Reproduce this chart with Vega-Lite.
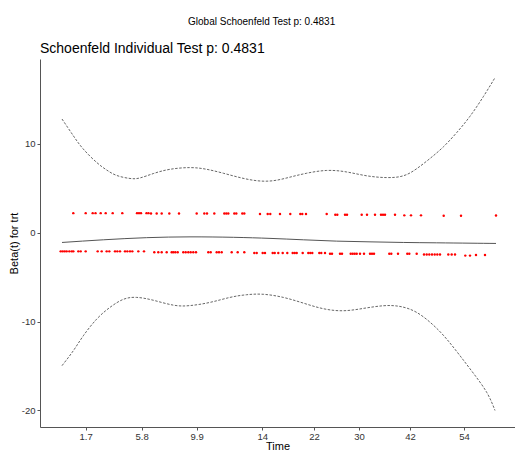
{
  "$schema": "https://vega.github.io/schema/vega-lite/v6.json",
  "background": "white",
  "padding": {"left": 8, "top": 17, "right": 0, "bottom": 0},
  "title": {"text": "Global Schoenfeld Test p: 0.4831", "anchor": "middle", "frame": "bounds", "fontSize": 10, "fontWeight": "normal", "font": "Liberation Sans", "color": "#000000", "offset": 15},
  "config": {"view": {"stroke": null}, "font": "Liberation Sans", "concat": {"spacing": 0}},
  "datasets": {
    "curves": [
      {"s": "upper", "t": 22, "v": 12.79}, {"s": "upper", "t": 33.3, "v": 10.91}, {"s": "upper", "t": 43.3, "v": 9.41}, {"s": "upper", "t": 56.7, "v": 7.9}, {"s": "upper", "t": 66.7, "v": 7.05}, {"s": "upper", "t": 76.7, "v": 6.44}, {"s": "upper", "t": 90, "v": 6.1}, {"s": "upper", "t": 100, "v": 6.16}, {"s": "upper", "t": 113.3, "v": 6.65}, {"s": "upper", "t": 130, "v": 7.13}, {"s": "upper", "t": 150, "v": 7.32}, {"s": "upper", "t": 166.7, "v": 7.13}, {"s": "upper", "t": 183.3, "v": 6.69}, {"s": "upper", "t": 200, "v": 6.2}, {"s": "upper", "t": 216.7, "v": 5.85}, {"s": "upper", "t": 233.3, "v": 5.85}, {"s": "upper", "t": 250, "v": 6.25}, {"s": "upper", "t": 266.7, "v": 6.69}, {"s": "upper", "t": 286.7, "v": 7.0}, {"s": "upper", "t": 306.7, "v": 6.83}, {"s": "upper", "t": 326.7, "v": 6.4}, {"s": "upper", "t": 346.7, "v": 6.2}, {"s": "upper", "t": 363.3, "v": 6.4}, {"s": "upper", "t": 376.7, "v": 7.2}, {"s": "upper", "t": 390, "v": 8.35}, {"s": "upper", "t": 403.3, "v": 9.65}, {"s": "upper", "t": 416.7, "v": 11.26}, {"s": "upper", "t": 430, "v": 13.1}, {"s": "upper", "t": 443.3, "v": 15.3}, {"s": "upper", "t": 455, "v": 17.44},
      {"s": "lower", "t": 22, "v": -14.96}, {"s": "lower", "t": 33.3, "v": -13.28}, {"s": "lower", "t": 43.3, "v": -11.6}, {"s": "lower", "t": 56.7, "v": -9.72}, {"s": "lower", "t": 70, "v": -8.4}, {"s": "lower", "t": 83.3, "v": -7.5}, {"s": "lower", "t": 96.7, "v": -7.28}, {"s": "lower", "t": 113.3, "v": -7.6}, {"s": "lower", "t": 133.3, "v": -8.15}, {"s": "lower", "t": 150, "v": -8.2}, {"s": "lower", "t": 170, "v": -7.84}, {"s": "lower", "t": 190, "v": -7.28}, {"s": "lower", "t": 206.7, "v": -6.98}, {"s": "lower", "t": 223.3, "v": -6.93}, {"s": "lower", "t": 243.3, "v": -7.28}, {"s": "lower", "t": 263.3, "v": -7.92}, {"s": "lower", "t": 283.3, "v": -8.55}, {"s": "lower", "t": 303.3, "v": -8.78}, {"s": "lower", "t": 323.3, "v": -8.52}, {"s": "lower", "t": 343.3, "v": -8.22}, {"s": "lower", "t": 360, "v": -8.3}, {"s": "lower", "t": 376.7, "v": -8.97}, {"s": "lower", "t": 393.3, "v": -10.4}, {"s": "lower", "t": 406.7, "v": -11.97}, {"s": "lower", "t": 420, "v": -13.84}, {"s": "lower", "t": 433.3, "v": -15.8}, {"s": "lower", "t": 446.7, "v": -17.96}, {"s": "lower", "t": 455, "v": -20.0},
      {"s": "fit", "t": 22, "v": -1.1}, {"s": "fit", "t": 63.3, "v": -0.8}, {"s": "fit", "t": 106.7, "v": -0.56}, {"s": "fit", "t": 150, "v": -0.47}, {"s": "fit", "t": 193.3, "v": -0.52}, {"s": "fit", "t": 230, "v": -0.64}, {"s": "fit", "t": 263.3, "v": -0.8}, {"s": "fit", "t": 296.7, "v": -0.95}, {"s": "fit", "t": 330, "v": -1.03}, {"s": "fit", "t": 363.3, "v": -1.1}, {"s": "fit", "t": 396.7, "v": -1.14}, {"s": "fit", "t": 430, "v": -1.18}, {"s": "fit", "t": 456, "v": -1.21}
    ],
    "resid": [
      {"t": 33.3, "v": 2.2}, {"t": 45.7, "v": 2.2}, {"t": 52.7, "v": 2.2}, {"t": 55.5, "v": 2.2}, {"t": 60.7, "v": 2.2}, {"t": 65.7, "v": 2.2}, {"t": 72.7, "v": 2.2}, {"t": 82.3, "v": 2.2}, {"t": 97, "v": 2.2}, {"t": 99, "v": 2.2}, {"t": 101, "v": 2.2}, {"t": 106.5, "v": 2.2}, {"t": 108.5, "v": 2.2},
      {"t": 111, "v": 2.15}, {"t": 116.7, "v": 2.15}, {"t": 121.7, "v": 2.15}, {"t": 129.3, "v": 2.15}, {"t": 139, "v": 2.15}, {"t": 156.7, "v": 2.15}, {"t": 164.3, "v": 2.15}, {"t": 167, "v": 2.15}, {"t": 174.3, "v": 2.15}, {"t": 184.3, "v": 2.15}, {"t": 186.3, "v": 2.15}, {"t": 188.3, "v": 2.15}, {"t": 194.3, "v": 2.15}, {"t": 196.3, "v": 2.15}, {"t": 202.3, "v": 2.15}, {"t": 204.3, "v": 2.15},
      {"t": 220, "v": 2.1}, {"t": 227.7, "v": 2.1}, {"t": 230.3, "v": 2.1}, {"t": 240, "v": 2.1}, {"t": 250.3, "v": 2.1}, {"t": 260.3, "v": 2.1}, {"t": 262.3, "v": 2.1}, {"t": 266, "v": 2.1}, {"t": 286.7, "v": 2.1},
      {"t": 295.3, "v": 2.02}, {"t": 297.3, "v": 2.02}, {"t": 305, "v": 2.02}, {"t": 307, "v": 2.02}, {"t": 321.7, "v": 2.02}, {"t": 327, "v": 2.02}, {"t": 335, "v": 2.02}, {"t": 341, "v": 2.02}, {"t": 343, "v": 2.02}, {"t": 345, "v": 2.02}, {"t": 355, "v": 2.02},
      {"t": 364.3, "v": 1.95}, {"t": 371, "v": 1.95}, {"t": 381, "v": 1.95}, {"t": 403.7, "v": 1.9}, {"t": 421, "v": 1.9}, {"t": 456, "v": 1.93},
      {"t": 20.7, "v": -2.1}, {"t": 22.7, "v": -2.1}, {"t": 24.7, "v": -2.1}, {"t": 26.7, "v": -2.1}, {"t": 29.3, "v": -2.1}, {"t": 31.7, "v": -2.1}, {"t": 33.3, "v": -2.1}, {"t": 38.3, "v": -2.1}, {"t": 40.7, "v": -2.1}, {"t": 45.7, "v": -2.1}, {"t": 57.7, "v": -2.1}, {"t": 61.7, "v": -2.1}, {"t": 66.7, "v": -2.1}, {"t": 69.3, "v": -2.1}, {"t": 75, "v": -2.1}, {"t": 77.3, "v": -2.1}, {"t": 80, "v": -2.1}, {"t": 85, "v": -2.1}, {"t": 87.3, "v": -2.1}, {"t": 90, "v": -2.1}, {"t": 92.3, "v": -2.1}, {"t": 98.3, "v": -2.1}, {"t": 104, "v": -2.1},
      {"t": 114.3, "v": -2.2}, {"t": 118.3, "v": -2.2}, {"t": 121.7, "v": -2.2}, {"t": 126.7, "v": -2.2}, {"t": 131.7, "v": -2.2}, {"t": 133.3, "v": -2.2}, {"t": 135.3, "v": -2.2}, {"t": 137.7, "v": -2.2}, {"t": 143.3, "v": -2.2}, {"t": 145.7, "v": -2.2}, {"t": 148.3, "v": -2.2}, {"t": 150.7, "v": -2.2}, {"t": 153.3, "v": -2.2}, {"t": 156, "v": -2.2}, {"t": 168.3, "v": -2.2}, {"t": 170.7, "v": -2.2}, {"t": 176.7, "v": -2.2}, {"t": 179, "v": -2.2}, {"t": 181.7, "v": -2.2}, {"t": 191.7, "v": -2.2}, {"t": 197.7, "v": -2.2}, {"t": 204.3, "v": -2.2},
      {"t": 214.3, "v": -2.28}, {"t": 216.7, "v": -2.28}, {"t": 222.7, "v": -2.28}, {"t": 225, "v": -2.28}, {"t": 232.7, "v": -2.28}, {"t": 234.7, "v": -2.28}, {"t": 238.3, "v": -2.28}, {"t": 242.7, "v": -2.28}, {"t": 247.3, "v": -2.28}, {"t": 252.7, "v": -2.28}, {"t": 254.7, "v": -2.28}, {"t": 256.7, "v": -2.28}, {"t": 262.7, "v": -2.28}, {"t": 268.3, "v": -2.28}, {"t": 270.3, "v": -2.28}, {"t": 272.3, "v": -2.28}, {"t": 279.3, "v": -2.28}, {"t": 281.3, "v": -2.28}, {"t": 285, "v": -2.28},
      {"t": 290, "v": -2.38}, {"t": 292, "v": -2.38}, {"t": 300, "v": -2.38}, {"t": 302, "v": -2.38}, {"t": 310.7, "v": -2.38}, {"t": 312.7, "v": -2.38}, {"t": 314.7, "v": -2.38}, {"t": 316.7, "v": -2.38}, {"t": 320, "v": -2.38}, {"t": 324, "v": -2.38}, {"t": 330, "v": -2.38}, {"t": 332, "v": -2.38}, {"t": 334, "v": -2.38}, {"t": 349.3, "v": -2.38}, {"t": 351.3, "v": -2.38}, {"t": 358, "v": -2.38}, {"t": 367.3, "v": -2.38}, {"t": 369.3, "v": -2.38}, {"t": 376.7, "v": -2.38},
      {"t": 384, "v": -2.45}, {"t": 386.7, "v": -2.45}, {"t": 389.3, "v": -2.45}, {"t": 392, "v": -2.45}, {"t": 394.7, "v": -2.45}, {"t": 397.3, "v": -2.45}, {"t": 400, "v": -2.45}, {"t": 408.3, "v": -2.45}, {"t": 411.7, "v": -2.45}, {"t": 415, "v": -2.45},
      {"t": 425.3, "v": -2.58}, {"t": 430, "v": -2.58}, {"t": 436, "v": -2.52}, {"t": 445, "v": -2.52}
    ]
  },
  "vconcat": [
    {
      "width": 475,
      "height": 368,
      "title": {"text": "Schoenfeld Individual Test p: 0.4831", "anchor": "start", "frame": "group", "fontSize": 14, "fontWeight": "normal", "color": "#000000", "offset": 3},
      "encoding": {
        "x": {"field": "t", "type": "quantitative", "scale": {"domain": [0, 475], "nice": false, "zero": false},
          "axis": {"title": "Time", "grid": false, "values": [45.7, 101.7, 156.7, 222.3, 274, 319, 370, 424],
            "labelExpr": "datum.value == 45.7 ? '1.7' : datum.value == 101.7 ? '5.8' : datum.value == 156.7 ? '9.9' : datum.value == 222.3 ? '14' : datum.value == 274 ? '22' : datum.value == 319 ? '30' : datum.value == 370 ? '42' : '54'",
            "domainColor": "#555555", "tickColor": "#555555", "tickSize": 3, "labelPadding": 1, "labelFontSize": 9.5, "labelColor": "#333333", "titleFontSize": 11, "titleFontWeight": "normal", "titleColor": "#000000", "titlePadding": 0}},
        "y": {"field": "v", "type": "quantitative", "scale": {"domain": [-21.86, 19.54], "nice": false, "zero": false},
          "axis": {"title": "Beta(t) for trt", "grid": false, "values": [-20, -10, 0, 10],
            "labelExpr": "datum.value < 0 ? '-' + abs(datum.value) : '' + datum.value",
            "domainColor": "#555555", "tickColor": "#555555", "tickSize": 3, "labelPadding": 2, "labelFontSize": 9.5, "labelColor": "#333333", "titleFontSize": 11, "titleFontWeight": "normal", "titleColor": "#000000", "titlePadding": 2}}
      },
      "layer": [
        {
          "data": {"name": "curves"},
          "transform": [{"filter": "datum.s != 'fit'"}],
          "mark": {"type": "line", "interpolate": "natural", "color": "#555555", "strokeWidth": 0.9, "strokeDash": [2.5, 1.5]},
          "encoding": {"detail": {"field": "s"}}
        },
        {
          "data": {"name": "curves"},
          "transform": [{"filter": "datum.s == 'fit'"}],
          "mark": {"type": "line", "interpolate": "natural", "color": "#555555", "strokeWidth": 1}
        },
        {
          "data": {"name": "resid"},
          "mark": {"type": "circle", "color": "#FF0000", "size": 6, "opacity": 1}
        }
      ]
    }
  ]
}
